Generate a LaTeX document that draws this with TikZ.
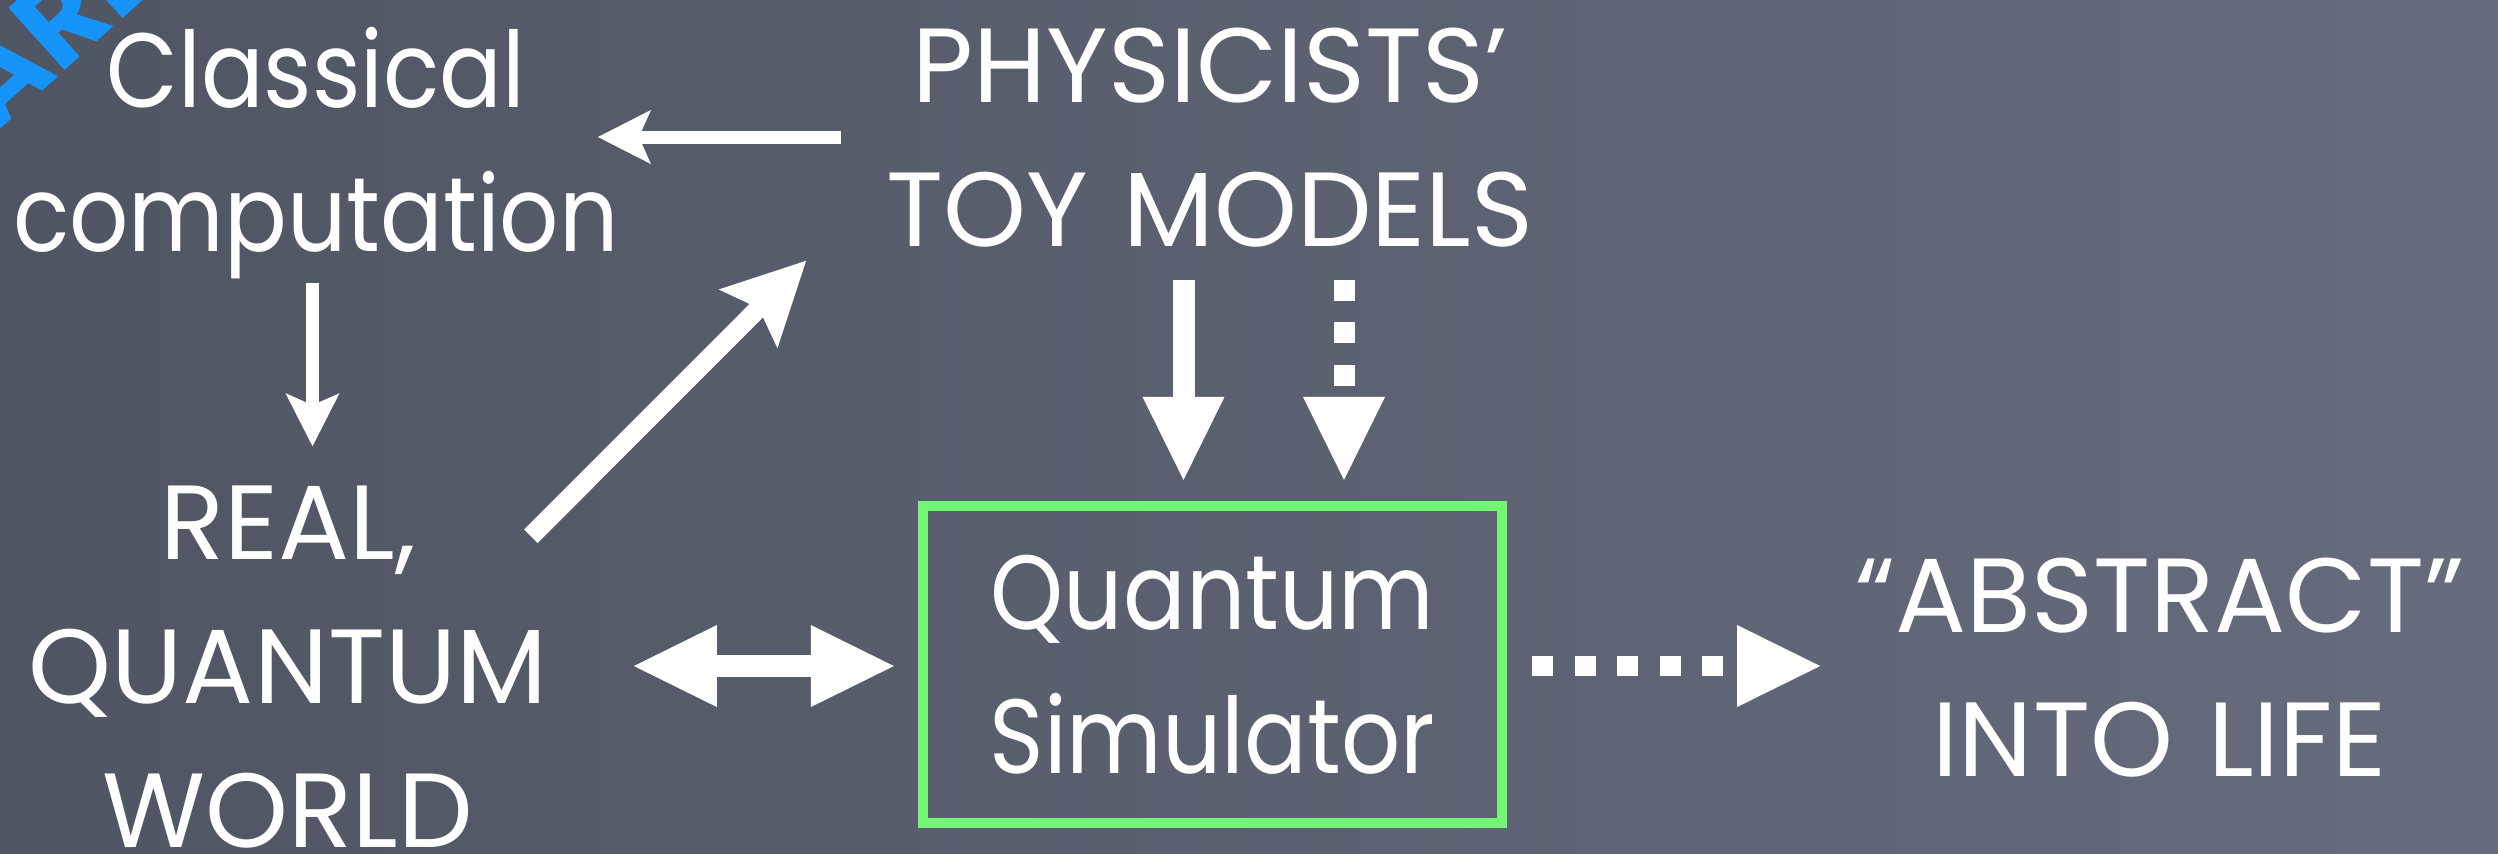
\documentclass[tikz,border=0pt]{standalone}
\usepackage{fontspec}
\newfontfamily\chalkfont{Poppins}
\newfontfamily\chalknarrow{Poppins}[FakeStretch=0.88]
\usetikzlibrary{arrows.meta,calc}
\definecolor{boarddark}{RGB}{80,85,99}
\definecolor{boardlight}{RGB}{102,108,124}
\definecolor{boxgreen}{RGB}{115,246,117}
\definecolor{markblue}{RGB}{22,148,250}
\tikzset{
  chalktext/.style={text=white, align=center, inner sep=0pt, text width=#1,
    font=\chalkfont\fontsize{30}{40.97}\selectfont},
  smalltext/.style={chalktext=#1, font=\chalknarrow\fontsize{30}{40.97}\selectfont},
  simbox/.style={draw=boxgreen, line width=0.10cm, outer sep=0pt, inner sep=0pt,
    minimum width=5.79cm, minimum height=3.17cm, text=white, align=center,
    font=\chalknarrow\fontsize{30}{40.97}\selectfont},
  thintip/.tip={Stealth[length=0.53cm, width=0.54cm, inset=0.12cm, line width=0pt]},
  diagtip/.tip={Stealth[length=0.82cm, width=0.83cm, inset=0.15cm, line width=0pt]},
  bigtip/.tip={Triangle[length=0.83cm, width=0.82cm, line width=0pt]},
  thinarrow/.style={white, line width=0.13cm, -thintip},
  diagarrow/.style={white, line width=0.19cm, -diagtip},
  bigarrow/.style={white, line width=0.22cm, -bigtip},
  dotarrow/.style={bigarrow, line width=0.21cm, dash pattern=on 0.21cm off 0.215cm},
}
\begin{document}
\begin{tikzpicture}[x=0.01cm, y=-0.01cm]

  % board
  \useasboundingbox (0,0) rectangle (2498,853);
  \clip (0,0) rectangle (2498,853);
  \shade[left color=boarddark, right color=boardlight] (0,0) rectangle (2498,853);

  % scribble in the corner
  \node[markblue, rotate=42, inner sep=0pt,
        font=\chalkfont\bfseries\fontsize{34}{36}\selectfont] (mark) at (52,26) {ARE};

  % the blocks
  \node[smalltext=7.2cm] (cls) at (316,151) {\strut Classical\\\strut computation};
  \node[chalktext=7.4cm] (phys) at (1210,146) {\strut PHYSICISTS’\\\strut TOY MODELS};
  \node[chalktext=6.0cm] (real) at (288,675) {\strut REAL,\\\strut QUANTUM\\\strut WORLD};
  \node[simbox] (qs) at (1212.5,664.5) {Quantum\\Simulator};
  \node[chalktext=7.0cm] (abs) at (2160,676) {\strut “ABSTRACT”\\\strut INTO LIFE};

  % arrows
  \draw[thinarrow] ($(phys.west)+(2,-9)$) -- ($(cls.east)+(-79,-14)$);
  \draw[thinarrow] ($(cls.south)+(-3.5,-13)$) -- ($(real.north)+(24.5,-12)$);
  \draw[diagarrow] ($(real.north east)+(-58,78)$) -- ($(phys.south west)+(-33,-30)$);
  \draw[bigarrow] ($(phys.south)+(-26.5,-11)$) -- ($(qs.north)+(-29,-26)$);
  \draw[dotarrow] ($(phys.south)+(134,-11)$) -- ($(qs.north)+(131.5,-26)$);
  \draw[bigtip-bigtip, white, line width=0.22cm] ($(real.east)+(45,-9)$) -- ($(qs.west)+(-29,1.5)$);
  \draw[dotarrow, line width=0.20cm] ($(qs.east)+(30,1.5)$) -- ($(abs.west)+(11,-10)$);

\end{tikzpicture}
\end{document}
